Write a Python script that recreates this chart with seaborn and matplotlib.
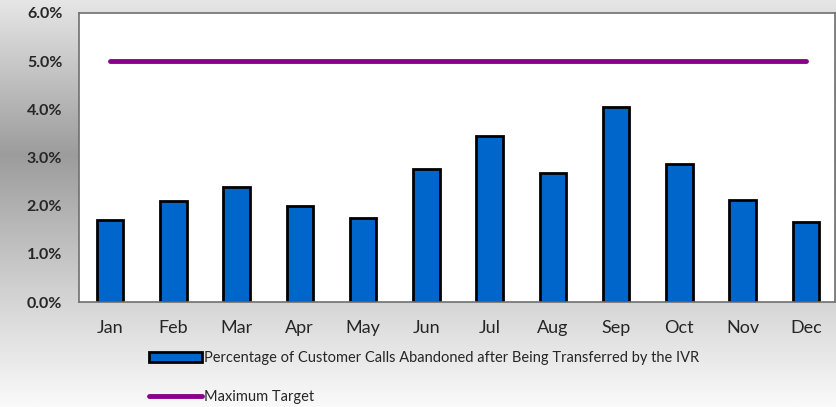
import numpy as np
import pandas as pd
import matplotlib.pyplot as plt
import seaborn as sns
from matplotlib.patches import Patch
from matplotlib.lines import Line2D
from matplotlib.colors import LinearSegmentedColormap

months = ["Jan", "Feb", "Mar", "Apr", "May", "Jun", "Jul", "Aug", "Sep", "Oct", "Nov", "Dec"]
abandoned = [1.70, 2.09, 2.39, 1.99, 1.74, 2.76, 3.44, 2.68, 4.05, 2.86, 2.12, 1.66]
target = [5.0] * 12

bar_label = "Percentage of Customer Calls Abandoned after Being Transferred by the IVR"
line_label = "Maximum Target"

sns.set_style("white")
plt.rcParams['font.family'] = ['Lato', 'DejaVu Sans']
plt.rcParams['font.weight'] = 'bold'

fig = plt.figure(figsize=(8.36, 4.07), dpi=100)

# gradient background
bg = fig.add_axes([0, 0, 1, 1], zorder=-10)
grad = LinearSegmentedColormap.from_list("g", [(0, "#fafafa"), (0.28, "#d2d2d2"), (0.62, "#9c9c9c"), (1, "#e6e6e6")])
bg.imshow(np.linspace(0, 1, 256).reshape(-1, 1), aspect="auto", cmap=grad, extent=[0, 1, 0, 1], origin="lower")
bg.axis("off")

ax = fig.add_axes([79 / 836, 1 - 302 / 407, (835 - 79) / 836, (302 - 13) / 407])
data = pd.DataFrame({"month": months, "pct": abandoned})
sns.barplot(data=data, x="month", y="pct", color="#0066cc", width=0.42,
            edgecolor="black", linewidth=2.0, saturation=1, ax=ax)
sns.lineplot(x=np.arange(len(months)), y=target, color="#8b008b", linewidth=3.5,
             solid_capstyle="round", ax=ax)

ax.set_xlim(-0.49, 11.46)
ax.set_ylim(0, 6)
ax.set_yticks(np.arange(0, 7, 1))
ax.set_yticklabels([f"{v:.1f}%" for v in range(7)])
ax.set_xlabel("")
ax.set_ylabel("")
ax.tick_params(axis="y", labelsize=11.5, length=0, pad=12)
ax.tick_params(axis="x", labelsize=13, length=0, pad=13)
for lbl in ax.get_xticklabels():
    lbl.set_fontweight("normal")
for s in ax.spines.values():
    s.set_color("#707070")
    s.set_linewidth(1.2)
ax.set_facecolor("white")

handles = [Patch(facecolor="#0066cc", edgecolor="black", linewidth=2),
           Line2D([0], [0], color="#8b008b", linewidth=3.5, solid_capstyle="round")]
fig.legend(handles, [bar_label, line_label], loc="upper left",
           bbox_to_anchor=(136 / 836, 1 - 338 / 407), frameon=False,
           prop={"family": "Lato", "size": 10.5, "weight": "normal"},
           handlelength=3.6, handleheight=0.6, handletextpad=0.15, labelspacing=1.7)

fig.savefig("out.png", dpi=100)
